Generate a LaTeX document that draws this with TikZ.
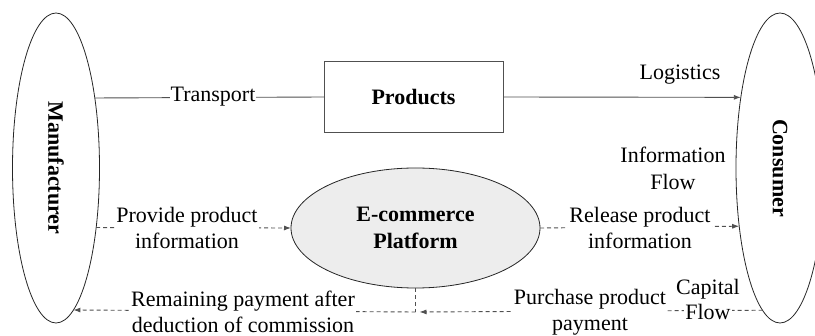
\documentclass[tikz,border=0pt]{standalone}
\usepackage{fontspec}
\setmainfont{Liberation Serif}
\usetikzlibrary{arrows.meta,shapes.geometric}
\definecolor{linegray}{HTML}{505050}
\definecolor{platfill}{HTML}{EDEDED}

\begin{document}
\begin{tikzpicture}[x=1pt,y=-1pt,
  every node/.style={font=\fontsize{22}{26.5}\selectfont},
  flow/.style={draw=linegray, line width=0.9pt},
  dflow/.style={flow, dash pattern=on 4pt off 3pt},
  tip/.style={-{Latex[length=7pt,width=5pt]}},
  lbl/.style={fill=white, inner sep=1pt, align=center},
  party/.style={draw=black!85, ellipse, minimum width=87pt, minimum height=310pt,
                inner sep=0pt, outer sep=0pt, line width=0.8pt},
]
\useasboundingbox (0,0) rectangle (815,336);

% the three actors and the goods
\node[party] (M) at (56,168) {\rotatebox{-90}{\bfseries Manufacturer}};
\node[party, minimum width=88pt] (C) at (780,168) {\rotatebox{-90}{\bfseries Consumer}};
\node[draw=linegray, line width=0.9pt, minimum width=179pt, minimum height=71pt,
      inner sep=0pt, outer sep=0pt, font=\fontsize{22}{26}\selectfont\bfseries] (P) at (413.5,97) {Products};
\node[draw=black!85, fill=platfill, ellipse, minimum width=249pt, minimum height=120pt,
      inner sep=0pt, outer sep=0pt, line width=0.8pt, align=center,
      font=\fontsize{22}{26.5}\selectfont\bfseries] (E) at (415.5,228) {E-commerce\\Platform};

% logistics
\draw[flow] (M.61.4) -- (P.west);
\draw[flow, tip] (P.east) -- (C.119.3);

% information flow
\draw[dflow, tip] (M.-56.2) -- (E.west);
\draw[dflow, tip] (E.east) -- (C.235.9);

% capital flow
\path (E.south) ++(0,24) coordinate (J);
\draw[dflow] (E.south) -- (J);
\draw[dflow, tip, shorten >=4pt] (C.263.55) -- (J);
\draw[dflow, tip] (J) -- (M.-83.6);

% labels
\node[lbl] (tr) at (213,97) {Transport};
\node (lg) at (680,75) {Logistics};
\node[lbl] (pi) at (187,228) {Provide product\\information};
\node[lbl] (ri) at (640,228) {Release product\\information};
\node[align=center, font=\fontsize{22}{27}\selectfont] (inf) at (673,168) {Information\\Flow};
\node (cap) at (708,289) {Capital};
\node[lbl] (cfl) at (708,312) {Flow};
\node[lbl] (pp) at (590,312) {Purchase product\\payment};
\node[lbl] (rp) at (243,312) {Remaining payment after\\deduction of commission};
\end{tikzpicture}
\end{document}
